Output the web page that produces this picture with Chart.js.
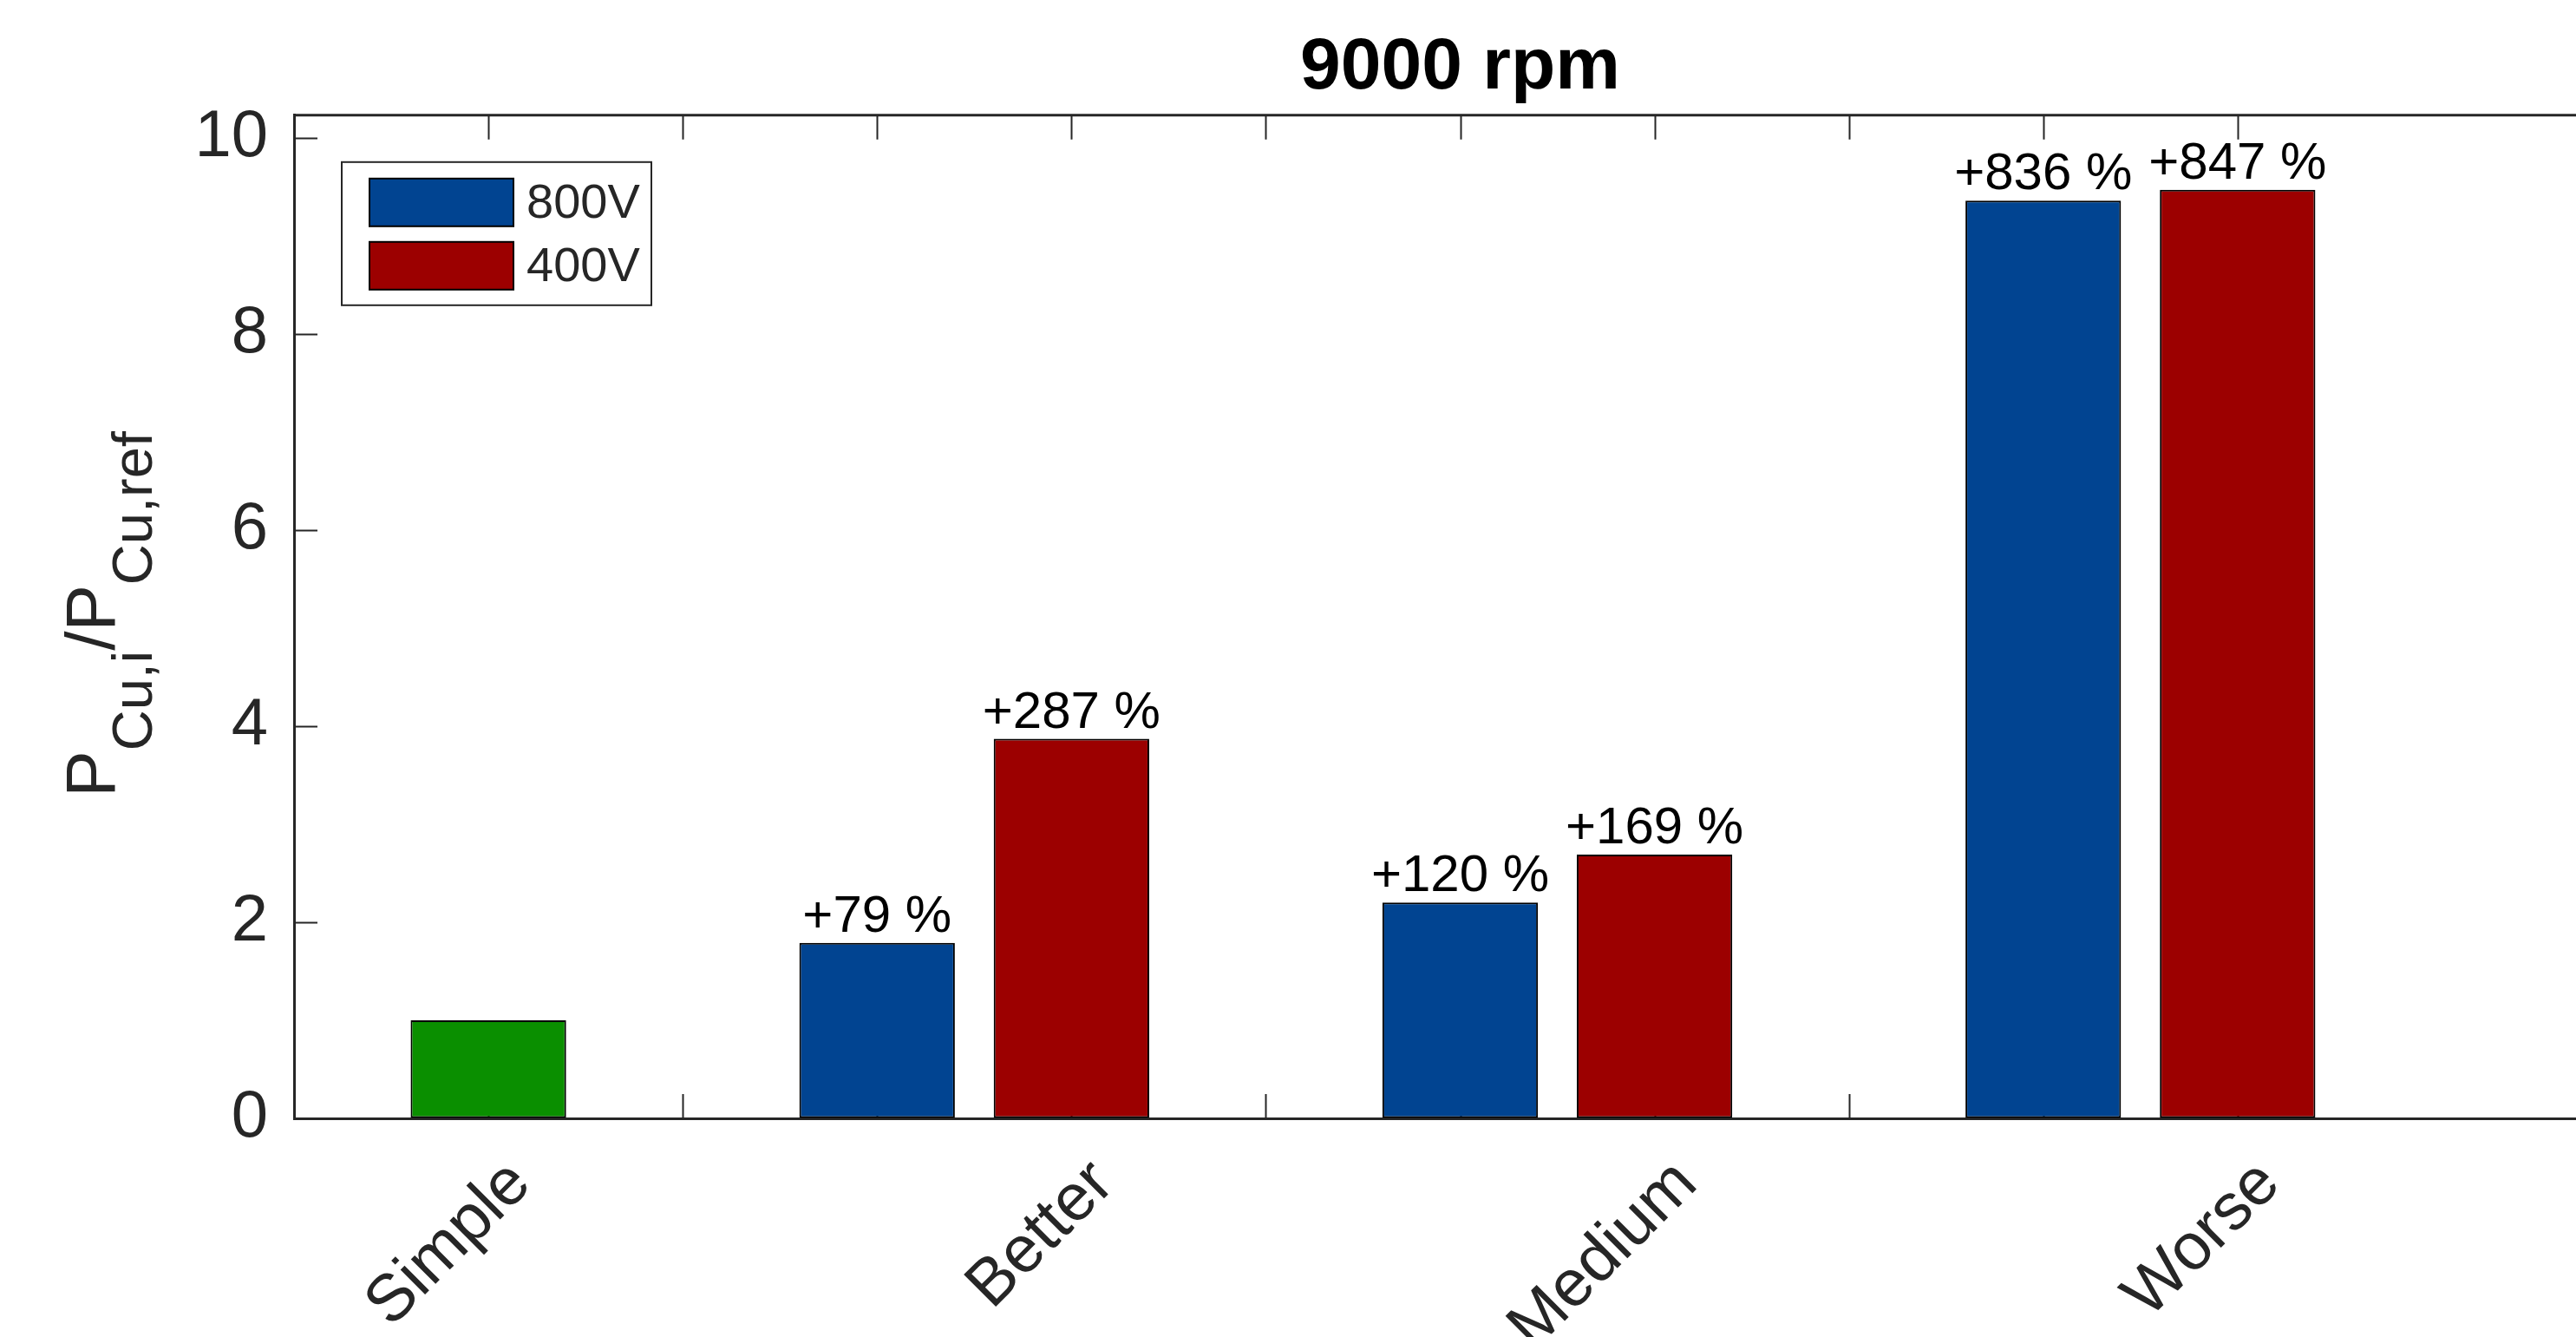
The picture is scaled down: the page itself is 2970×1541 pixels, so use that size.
<!DOCTYPE html>
<html>
<head>
<meta charset="utf-8">
<title>9000 rpm</title>
<script src="https://cdn.jsdelivr.net/npm/chart.js@4.4.1/dist/chart.umd.min.js"></script>
<style>
    html, body { margin: 0; padding: 0; background: #fff; overflow: hidden; }
    #wrap { width: 3040px; height: 1541px; position: relative; }
</style>
</head>
<body>
<div id="wrap"><canvas id="copperLossChart"></canvas></div>
<script>
// one bar per integer slot on the x axis, like the MATLAB original
const slotTicks = [1, 2, 3, 4, 5, 6, 7, 8, 9, 10];
const categories = ['Simple', 'Better', 'Medium', 'Worse'];
const categorySlots = [1, 4, 7, 10];

const refSlots = [1];
const refValues = [1];
const slots800V = [3, 6, 9];
const values800V = [1.79, 2.20, 9.36];
const slots400V = [4, 7, 10];
const values400V = [3.87, 2.69, 9.47];

const yTicks = [0, 2, 4, 6, 8, 10];
const xRange = [0, 12];
const yRange = [0, 10.23];

const FONT = "'Liberation Sans', Arial, sans-serif";
const AXIS_COLOR = '#262626';

function toPoints(xs, ys) {
    return xs.map((x, i) => ({ x: x, y: ys[i] }));
}

// inward tick marks and the top box line
const axisDecor = {
    id: 'axisDecor',
    beforeDatasetsDraw(chart) {
        const { ctx, chartArea: a, scales } = chart;
        ctx.save();
        ctx.strokeStyle = AXIS_COLOR;
        ctx.lineWidth = 2;
        ctx.beginPath();
        slotTicks.forEach(v => {
            const px = Math.round(scales.x.getPixelForValue(v)) + 0.5;
            ctx.moveTo(px, a.bottom);
            ctx.lineTo(px, a.bottom - 28);
            ctx.moveTo(px, a.top);
            ctx.lineTo(px, a.top + 28);
        });
        yTicks.forEach(v => {
            const py = Math.round(scales.y.getPixelForValue(v)) + 0.5;
            ctx.moveTo(a.left, py);
            ctx.lineTo(a.left + 27, py);
        });
        ctx.stroke();
        ctx.lineWidth = 3;
        ctx.beginPath();
        ctx.moveTo(a.left, a.top);
        ctx.lineTo(a.right, a.top);
        ctx.stroke();
        ctx.restore();
    }
};

// "+xx %" above the 800V / 400V bars
const barLabels = {
    id: 'barLabels',
    afterDatasetsDraw(chart) {
        const ctx = chart.ctx;
        ctx.save();
        ctx.font = '60px ' + FONT;
        ctx.fillStyle = '#000';
        ctx.textAlign = 'center';
        ctx.textBaseline = 'alphabetic';
        chart.data.datasets.forEach((ds, di) => {
            if (!ds.showPercent) return;
            chart.getDatasetMeta(di).data.forEach((bar, i) => {
                const pct = Math.round((ds.data[i].y - 1) * 100);
                ctx.fillText('+' + pct + ' %', bar.x, bar.y - 13);
            });
        });
        ctx.restore();
    }
};

// boxed legend in the upper left of the axes
const boxLegend = {
    id: 'boxLegend',
    afterDraw(chart) {
        const { ctx, chartArea: a } = chart;
        const entries = chart.data.datasets.filter(ds => ds.inLegend);
        const bx = a.left + 55, by = a.top + 54, bw = 357, bh = 165;
        ctx.save();
        ctx.fillStyle = '#fff';
        ctx.fillRect(bx, by, bw, bh);
        ctx.strokeStyle = AXIS_COLOR;
        ctx.lineWidth = 2;
        ctx.strokeRect(bx, by, bw, bh);
        ctx.font = '56px ' + FONT;
        ctx.textBaseline = 'middle';
        entries.forEach((ds, i) => {
            const sy = by + 19 + i * 73;
            ctx.fillStyle = ds.backgroundColor;
            ctx.fillRect(bx + 32, sy, 166, 55);
            ctx.strokeStyle = '#000';
            ctx.strokeRect(bx + 32, sy, 166, 55);
            ctx.fillStyle = AXIS_COLOR;
            ctx.fillText(ds.label, bx + 213, sy + 30);
        });
        ctx.restore();
    }
};

// y axis title with subscripts: P_{Cu,i}/P_{Cu,ref}
const yAxisTitle = {
    id: 'yAxisTitle',
    afterDraw(chart) {
        const { ctx, chartArea: a } = chart;
        const parts = [
            { t: 'P', sub: false }, { t: 'Cu,i', sub: true },
            { t: '/P', sub: false }, { t: 'Cu,ref', sub: true }
        ];
        const mainFont = '80px ' + FONT, subFont = '65px ' + FONT;
        ctx.save();
        let total = 0;
        parts.forEach(p => {
            ctx.font = p.sub ? subFont : mainFont;
            p.w = ctx.measureText(p.t).width;
            total += p.w;
        });
        ctx.translate(132, (a.top + a.bottom) / 2 - 3);
        ctx.rotate(-Math.PI / 2);
        ctx.fillStyle = AXIS_COLOR;
        ctx.textBaseline = 'alphabetic';
        let x = -total / 2;
        parts.forEach(p => {
            ctx.font = p.sub ? subFont : mainFont;
            ctx.fillText(p.t, x, p.sub ? 43 : 0);
            x += p.w;
        });
        ctx.restore();
    }
};

const chartData = {
    datasets: [
        {
            label: 'Simple',
            data: toPoints(refSlots, refValues),
            backgroundColor: '#0a8f00',
            inLegend: false,
            showPercent: false
        },
        {
            label: '800V',
            data: toPoints(slots800V, values800V),
            backgroundColor: '#014491',
            inLegend: true,
            showPercent: true
        },
        {
            label: '400V',
            data: toPoints(slots400V, values400V),
            backgroundColor: '#9c0000',
            inLegend: true,
            showPercent: true
        }
    ]
};

const chartConfig = {
    type: 'bar',
    data: chartData,
    options: {
        responsive: true,
        maintainAspectRatio: false,
        animation: false,
        layout: { padding: { right: 12 } },
        datasets: {
            bar: {
                grouped: false,
                categoryPercentage: 1.0,
                barPercentage: 0.8,
                borderColor: '#000',
                borderWidth: 2,
                borderSkipped: false
            }
        },
        plugins: {
            legend: { display: false },
            tooltip: { enabled: false },
            title: {
                display: true,
                text: '9000 rpm',
                fullSize: false,
                color: '#000',
                font: { family: FONT, size: 84, weight: 'bold' },
                padding: { top: 28, bottom: 4 }
            }
        },
        scales: {
            x: {
                type: 'linear',
                min: xRange[0],
                max: xRange[1],
                offset: false,
                afterBuildTicks: function (scale) {
                    scale.ticks = slotTicks.map(v => ({ value: v }));
                },
                afterFit: function (scale) {
                    scale.height = 252;
                },
                grid: { display: true, drawOnChartArea: false, drawTicks: false },
                border: { display: true, color: AXIS_COLOR, width: 3 },
                ticks: {
                    autoSkip: false,
                    minRotation: 45,
                    maxRotation: 45,
                    padding: 31,
                    labelOffset: 37,
                    color: AXIS_COLOR,
                    font: { family: FONT, size: 76 },
                    callback: function (value) {
                        const k = categorySlots.indexOf(value);
                        return k >= 0 ? categories[k] : '';
                    }
                }
            },
            y: {
                type: 'linear',
                min: yRange[0],
                max: yRange[1],
                afterBuildTicks: function (scale) {
                    scale.ticks = yTicks.map(v => ({ value: v }));
                },
                afterFit: function (scale) {
                    scale.width = 339;
                },
                grid: { display: true, drawOnChartArea: false, drawTicks: false },
                border: { display: true, color: AXIS_COLOR, width: 3 },
                ticks: {
                    padding: 30,
                    color: AXIS_COLOR,
                    font: { family: FONT, size: 76 },
                    callback: function (value) {
                        return String(value);
                    }
                }
            }
        }
    },
    plugins: [axisDecor, barLabels, boxLegend, yAxisTitle]
};

const ctx = document.getElementById('copperLossChart').getContext('2d');
new Chart(ctx, chartConfig);
</script>
</body>
</html>
